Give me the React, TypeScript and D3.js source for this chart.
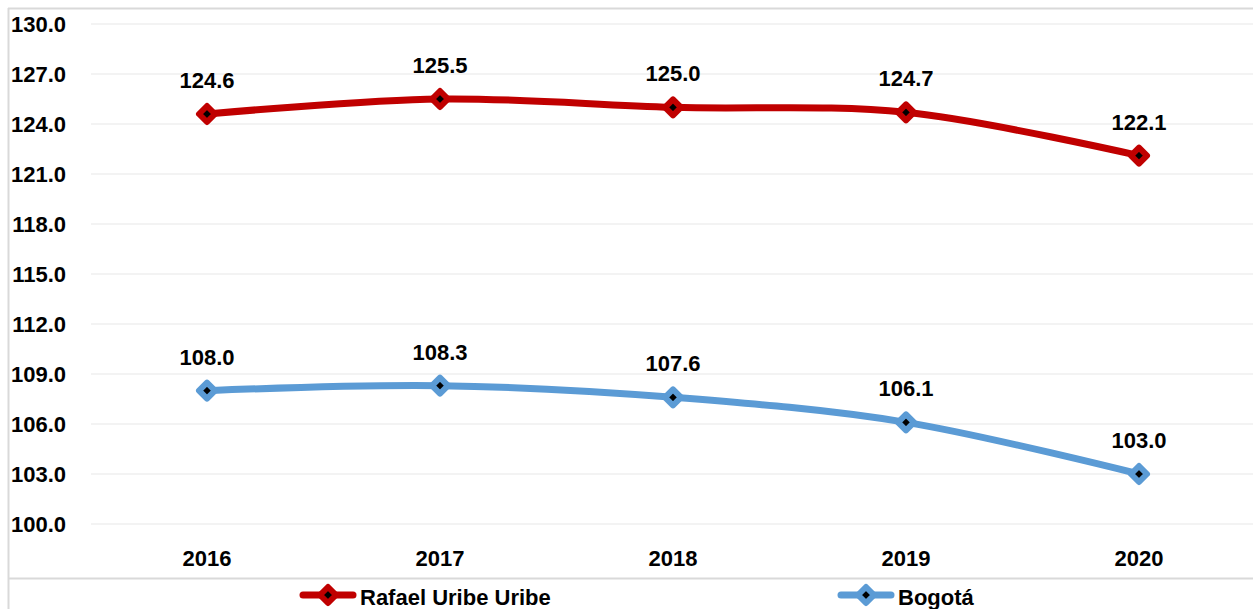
import { useMemo } from "react";
import * as d3 from "d3";

const years = ["2016", "2017", "2018", "2019", "2020"];
const rafaelValues = [124.6, 125.5, 125.0, 124.7, 122.1];
const bogotaValues = [108.0, 108.3, 107.6, 106.1, 103.0];
const yTicks = [100, 103, 106, 109, 112, 115, 118, 121, 124, 127, 130];

const series = [
  { name: "Rafael Uribe Uribe", values: rafaelValues, color: "#C00000", legendX: 299 },
  { name: "Bogotá", values: bogotaValues, color: "#5B9BD5", legendX: 837 },
];

const W = 1253;
const H = 609;
const font = "'Liberation Sans', Arial, sans-serif";

const diamond = (cx: number, cy: number, r: number) =>
  `M${cx},${cy - r}L${cx + r},${cy}L${cx},${cy + r}L${cx - r},${cy}Z`;

const App = () => {
  const x = useMemo(() => d3.scaleBand().domain(years).range([90.5, 1255.5]), []);
  const y = useMemo(() => d3.scaleLinear().domain([100, 130]).range([524, 24]), []);
  const cx = (d: string) => (x(d) ?? 0) + x.bandwidth() / 2;

  const line = d3
    .line<number>()
    .x((_, i) => cx(years[i]))
    .y((v) => y(v))
    .curve(d3.curveCardinal.tension(0));

  return (
    <svg
      width={W}
      height={H}
      style={{ position: "absolute", left: 0, top: 0, background: "#fff" }}
      fontFamily={font}
      fontWeight="bold"
    >
      {/* frame */}
      <line x1={8.5} x2={8.5} y1={8} y2={H} stroke="#D9D9D9" strokeWidth={2} />
      <line x1={8} x2={W} y1={8.5} y2={8.5} stroke="#D9D9D9" strokeWidth={2} />
      <line x1={8} x2={W} y1={578.5} y2={578.5} stroke="#D9D9D9" strokeWidth={2} />

      {/* grid + y labels */}
      {yTicks.map((t) => (
        <g key={t}>
          <line x1={91} x2={W} y1={y(t)} y2={y(t)} stroke="#EFEFEF" strokeWidth={1.5} />
          <text x={66} y={y(t)} dy="0.36em" textAnchor="end" fontSize={22} fill="#000">
            {t.toFixed(1)}
          </text>
        </g>
      ))}

      {/* x labels */}
      {years.map((yr) => (
        <text key={yr} x={cx(yr)} y={566} textAnchor="middle" fontSize={22} fill="#000">
          {yr}
        </text>
      ))}

      {/* series */}
      {series.map((s) => (
        <g key={s.name}>
          <path d={line(s.values) ?? ""} fill="none" stroke={s.color} strokeWidth={7} strokeLinecap="round" />
          {s.values.map((v, i) => (
            <g key={i}>
              <path d={diamond(cx(years[i]), y(v), 8)} fill="#000" stroke={s.color} strokeWidth={6} strokeLinejoin="round" />
              <text x={cx(years[i])} y={y(v) - 26} textAnchor="middle" fontSize={22} fill="#000">
                {v.toFixed(1)}
              </text>
            </g>
          ))}
        </g>
      ))}

      {/* legend */}
      {series.map((s) => (
        <g key={s.name + "-leg"}>
          <line x1={s.legendX + 4} x2={s.legendX + 54} y1={595} y2={595} stroke={s.color} strokeWidth={7} strokeLinecap="round" />
          <path d={diamond(s.legendX + 29, 595, 8)} fill="#000" stroke={s.color} strokeWidth={6} strokeLinejoin="round" />
          <text x={s.legendX + 61} y={605} fontSize={22} fill="#000">
            {s.name}
          </text>
        </g>
      ))}
    </svg>
  );
};

export default App;
